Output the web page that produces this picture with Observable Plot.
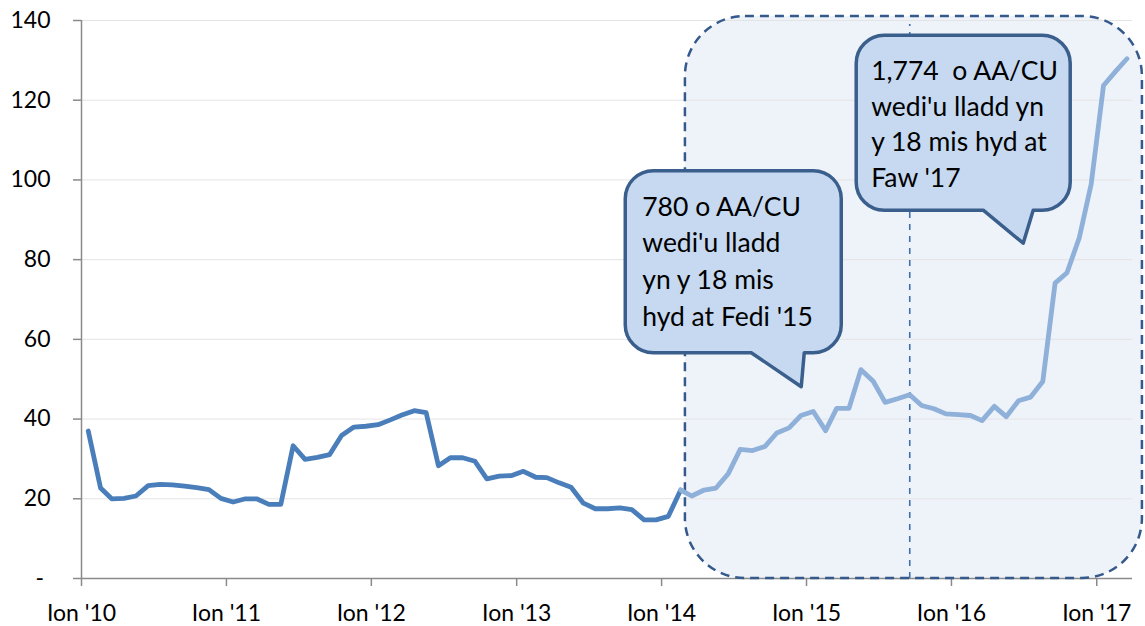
<!DOCTYPE html>
<html><head><meta charset="utf-8">
<script src="https://cdn.jsdelivr.net/npm/d3@7"></script>
<script src="https://cdn.jsdelivr.net/npm/@observablehq/plot@0.6"></script>
<style>
html,body{margin:0;padding:0;background:#fff;}
#chart svg{display:block;}
</style>
</head><body><div id="chart"></div>
<script>
// ---- data ----
const startMonth = "2010-01";          // first monthly observation
const highlightFrom = "2014-02";       // lighter series from this month on
const markerMonth = "2015-09";         // dashed vertical marker
const values = [
  37.0, 22.7, 20.0, 20.1, 20.7, 23.3, 23.6, 23.5, 23.2, 22.8, 22.3, 20.1,
  19.2, 20.0, 20.0, 18.6, 18.6, 33.3, 29.9, 30.4, 31.1, 35.9, 38.0, 38.2,
  38.6, 39.8, 41.0, 42.1, 41.6, 28.3, 30.3, 30.3, 29.4, 25.0, 25.7, 25.8,
  26.9, 25.4, 25.3, 24.0, 22.9, 18.9, 17.5, 17.5, 17.7, 17.3, 14.7, 14.7,
  15.6, 22.2, 20.7, 22.2, 22.7, 26.3, 32.4, 32.1, 33.1, 36.5, 37.8, 40.9,
  41.9, 37.1, 42.7, 42.7, 52.4, 49.5, 44.2, 45.1, 46.1, 43.4, 42.6, 41.3,
  41.1, 40.9, 39.6, 43.2, 40.6, 44.6, 45.5, 49.4, 74.1, 76.7, 85.5, 99.0,
  123.7, 127.3, 130.4
];
const yTicks = [0, 20, 40, 60, 80, 100, 120, 140];
const xTickYears = [2010, 2011, 2012, 2013, 2014, 2015, 2016, 2017];
const noteText1 = ["780 o AA/CU", "wedi'u lladd", "yn y 18 mis", "hyd at Fedi '15"];
const noteText2 = ["1,774  o AA/CU", "wedi'u lladd yn", "y 18 mis hyd at", "Faw '17"];
const noteTipDates = ["2014-12-20", "2016-07-01"];
const noteTipValues = [48, 84];

// ---- build ----
const pm = d3.utcParse("%Y-%m");
const pd = d3.utcParse("%Y-%m-%d");
const start = pm(startMonth);
const hlStart = pm(highlightFrom);
const rows = values.map((v, i) => {
  const m = d3.utcMonth.offset(start, i);
  return {month: m, date: d3.utcDay.offset(m, 17), value: v};
});
const dark = rows.filter(d => d.month <= hlStart);
const light = rows.filter(d => d.month >= hlStart);
const marker = rows.find(d => +d.month === +pm(markerMonth));
const xTicks = xTickYears.map(y => new Date(Date.UTC(y, 0, 1)));
const xDomain = [new Date(Date.UTC(2010, 0, 1)), new Date(Date.UTC(2017, 3, 1))];
const boxX1 = pd("2014-03-02"), boxX2 = pd("2017-04-26");

const notes = [
  {lines: noteText1, tip: pd(noteTipDates[0]), v: noteTipValues[0],
   g: {left: -176, right: 40, top: -216, bottom: -34, tailL: -50, tailR: 3, tx: 17, ty: 45, lh: 36.7}},
  {lines: noteText2, tip: pd(noteTipDates[1]), v: noteTipValues[1],
   g: {left: -167, right: 47, top: -208, bottom: -33, tailL: -40, tailR: 10, tx: 15, ty: 45, lh: 35.6}}
];

function calloutMark(index, scales) {
  const g = d3.create("svg:g");
  const r = 28;
  for (const n of notes) {
    const tx = scales.x(n.tip), ty = scales.y(n.v), o = n.g;
    const L = tx + o.left, R = tx + o.right, T = ty + o.top, B = ty + o.bottom;
    const p = `M${L + r},${T} H${R - r} A${r},${r} 0 0 1 ${R},${T + r} V${B - r} A${r},${r} 0 0 1 ${R - r},${B} H${tx + o.tailR} L${tx},${ty} L${tx + o.tailL},${B} H${L + r} A${r},${r} 0 0 1 ${L},${B - r} V${T + r} A${r},${r} 0 0 1 ${L + r},${T} Z`;
    g.append("path").attr("d", p).attr("fill", "#c6d9f1").attr("stroke", "#3a5f8c")
      .attr("stroke-width", 3.5).attr("stroke-linejoin", "round");
    const t = g.append("text").attr("font-family", "Lato, sans-serif").attr("font-size", 26.5)
      .attr("text-anchor", "start").attr("fill", "#000").style("white-space", "pre");
    n.lines.forEach((s, i) => {
      t.append("tspan").attr("x", L + o.tx).attr("y", T + o.ty + i * o.lh).text(s);
    });
  }
  return g.node();
}

const chart = Plot.plot({
  width: 1145, height: 626,
  marginLeft: 81, marginRight: 13, marginTop: 20, marginBottom: 48,
  style: {fontFamily: "Lato, sans-serif", fontSize: "23px", color: "#000", background: "#fff"},
  x: {type: "utc", domain: xDomain},
  y: {domain: [0, 140]},
  marks: [
    Plot.rect([{}], {x1: () => boxX1, x2: () => boxX2, y1: 0, y2: 141, fill: "#eef2f9", rx: 60}),
    Plot.gridY(yTicks.filter(d => d > 0), {stroke: "#e4e4e4", strokeOpacity: 1, strokeWidth: 1}),
    Plot.axisY(yTicks, {tickSize: 8, tickPadding: 23, stroke: "#8a8a8a", strokeWidth: 1.5, label: null,
      fontSize: 23, fill: "#000", tickFormat: d => d === 0 ? "" : String(d)}),
    Plot.text([0], {y: d => d, text: () => "-", frameAnchor: "left", dx: -46, fill: "#000", fontSize: 23}),
    Plot.axisX(xTicks, {tickSize: 8, tickPadding: 18, stroke: "#8a8a8a", strokeWidth: 1.5, label: null,
      fontSize: 23, fill: "#000", tickFormat: d3.utcFormat("Ion '%y")}),
    Plot.ruleX([xDomain[0]], {y1: 0, y2: 140, stroke: "#8a8a8a", strokeWidth: 1.5}),
    Plot.ruleY([0], {stroke: "#8a8a8a", strokeWidth: 1.5}),
    Plot.rect([{}], {x1: () => boxX1, x2: () => boxX2, y1: 0, y2: 141, fill: "none",
      stroke: "#34598a", strokeWidth: 2.5, strokeDasharray: "9,6", rx: 60}),
    Plot.ruleX([marker], {x: "date", y1: 0, y2: 139, stroke: "#3f72ad", strokeWidth: 1.6, strokeDasharray: "6,6"}),
    Plot.line(dark, {x: "date", y: "value", stroke: "#4a7ebb", strokeWidth: 4.8, strokeLinejoin: "round", strokeLinecap: "round"}),
    Plot.line(light, {x: "date", y: "value", stroke: "#8eb0d9", strokeWidth: 4.8, strokeLinejoin: "round", strokeLinecap: "round"}),
    calloutMark
  ]
});
document.getElementById("chart").appendChild(chart);
</script>
</body></html>
